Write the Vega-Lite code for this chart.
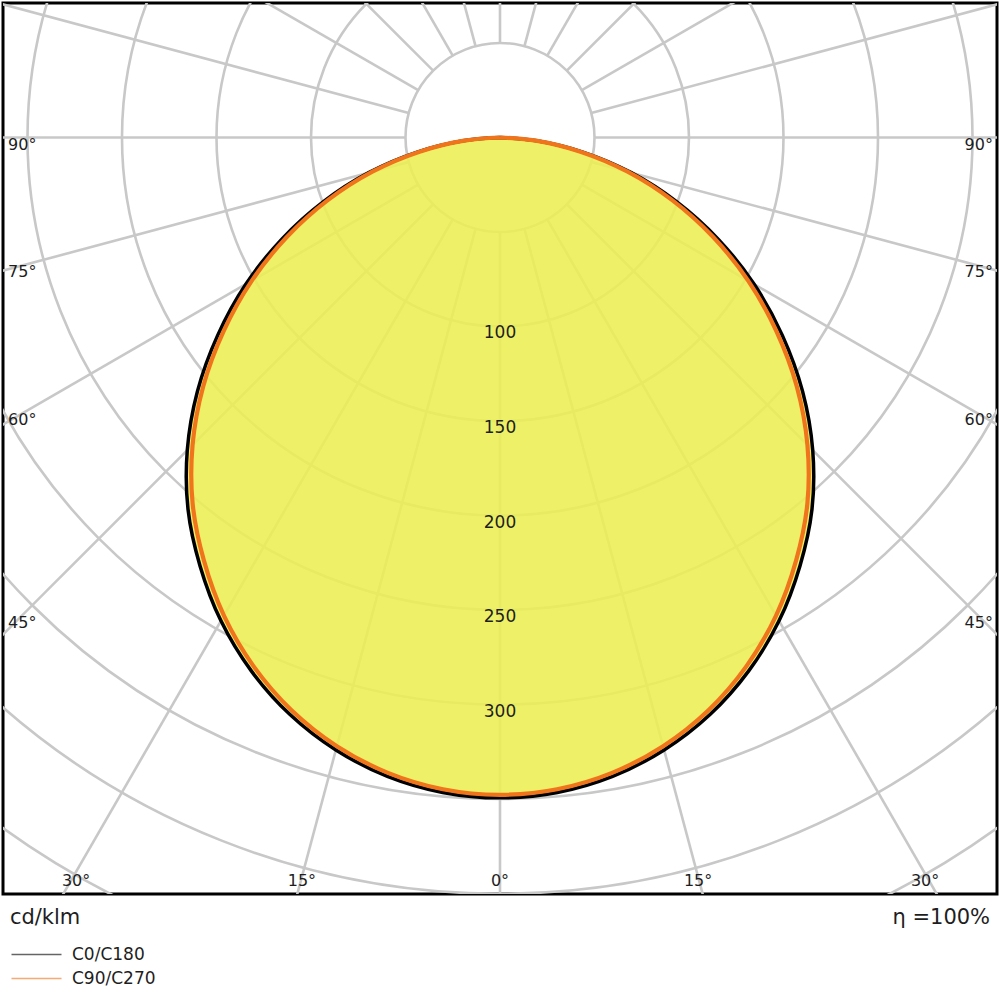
{
  "$schema": "https://vega.github.io/schema/vega-lite/v6.json",
  "width": 994,
  "height": 891,
  "autosize": {"type": "none"},
  "padding": {"left": 3, "top": 3, "right": 3, "bottom": 106},
  "background": "white",
  "config": {
    "view": {"stroke": "#000000", "strokeWidth": 3},
    "font": "DejaVu Sans",
    "text": {"font": "DejaVu Sans", "color": "#1e1e1e"}
  },
  "datasets": {
    "rings": [{"cd": 50}, {"cd": 100}, {"cd": 150}, {"cd": 200}, {"cd": 250}, {"cd": 300}, {"cd": 350}, {"cd": 400}, {"cd": 450}],
    "rays": [
      {"angle": 0, "x": 0, "y": -50, "x2": 0, "y2": -500},
      {"angle": 15, "x": 12.94, "y": -48.3, "x2": 129.41, "y2": -482.96},
      {"angle": 30, "x": 25, "y": -43.3, "x2": 250, "y2": -433.01},
      {"angle": 45, "x": 35.36, "y": -35.36, "x2": 353.55, "y2": -353.55},
      {"angle": 60, "x": 43.3, "y": -25, "x2": 433.01, "y2": -250},
      {"angle": 75, "x": 48.3, "y": -12.94, "x2": 482.96, "y2": -129.41},
      {"angle": 90, "x": 50, "y": 0, "x2": 500, "y2": 0},
      {"angle": 105, "x": 48.3, "y": 12.94, "x2": 482.96, "y2": 129.41},
      {"angle": 120, "x": 43.3, "y": 25, "x2": 433.01, "y2": 250},
      {"angle": 135, "x": 35.36, "y": 35.36, "x2": 353.55, "y2": 353.55},
      {"angle": 150, "x": 25, "y": 43.3, "x2": 250, "y2": 433.01},
      {"angle": 165, "x": 12.94, "y": 48.3, "x2": 129.41, "y2": 482.96},
      {"angle": 180, "x": 0, "y": 50, "x2": 0, "y2": 500},
      {"angle": 195, "x": -12.94, "y": 48.3, "x2": -129.41, "y2": 482.96},
      {"angle": 210, "x": -25, "y": 43.3, "x2": -250, "y2": 433.01},
      {"angle": 225, "x": -35.36, "y": 35.36, "x2": -353.55, "y2": 353.55},
      {"angle": 240, "x": -43.3, "y": 25, "x2": -433.01, "y2": 250},
      {"angle": 255, "x": -48.3, "y": 12.94, "x2": -482.96, "y2": 129.41},
      {"angle": 270, "x": -50, "y": 0, "x2": -500, "y2": 0},
      {"angle": 285, "x": -48.3, "y": -12.94, "x2": -482.96, "y2": -129.41},
      {"angle": 300, "x": -43.3, "y": -25, "x2": -433.01, "y2": -250},
      {"angle": 315, "x": -35.36, "y": -35.36, "x2": -353.55, "y2": -353.55},
      {"angle": 330, "x": -25, "y": -43.3, "x2": -250, "y2": -433.01},
      {"angle": 345, "x": -12.94, "y": -48.3, "x2": -129.41, "y2": -482.96}
    ],
    "curves": [
      {"series": "C0/C180", "gamma": -90, "x": 0, "y": 0},
      {"series": "C0/C180", "gamma": -85, "x": -19.53, "y": -1.71},
      {"series": "C0/C180", "gamma": -80, "x": -43.82, "y": -7.73},
      {"series": "C0/C180", "gamma": -75, "x": -69.45, "y": -18.61},
      {"series": "C0/C180", "gamma": -70, "x": -93.59, "y": -34.07},
      {"series": "C0/C180", "gamma": -65, "x": -115.55, "y": -53.88},
      {"series": "C0/C180", "gamma": -60, "x": -134.49, "y": -77.65},
      {"series": "C0/C180", "gamma": -55, "x": -149.33, "y": -104.56},
      {"series": "C0/C180", "gamma": -50, "x": -160.1, "y": -134.34},
      {"series": "C0/C180", "gamma": -45, "x": -165.46, "y": -165.46},
      {"series": "C0/C180", "gamma": -40, "x": -165.07, "y": -196.72},
      {"series": "C0/C180", "gamma": -35, "x": -158.71, "y": -226.66},
      {"series": "C0/C180", "gamma": -30, "x": -147.65, "y": -255.74},
      {"series": "C0/C180", "gamma": -25, "x": -131.6, "y": -282.22},
      {"series": "C0/C180", "gamma": -20, "x": -111.12, "y": -305.31},
      {"series": "C0/C180", "gamma": -15, "x": -86.83, "y": -324.07},
      {"series": "C0/C180", "gamma": -10, "x": -59.6, "y": -337.99},
      {"series": "C0/C180", "gamma": -5, "x": -30.32, "y": -346.51},
      {"series": "C0/C180", "gamma": 0, "x": 0, "y": -349.4},
      {"series": "C0/C180", "gamma": 5, "x": 30.32, "y": -346.51},
      {"series": "C0/C180", "gamma": 10, "x": 59.6, "y": -337.99},
      {"series": "C0/C180", "gamma": 15, "x": 86.83, "y": -324.07},
      {"series": "C0/C180", "gamma": 20, "x": 111.12, "y": -305.31},
      {"series": "C0/C180", "gamma": 25, "x": 131.6, "y": -282.22},
      {"series": "C0/C180", "gamma": 30, "x": 147.65, "y": -255.74},
      {"series": "C0/C180", "gamma": 35, "x": 158.71, "y": -226.66},
      {"series": "C0/C180", "gamma": 40, "x": 165.07, "y": -196.72},
      {"series": "C0/C180", "gamma": 45, "x": 165.46, "y": -165.46},
      {"series": "C0/C180", "gamma": 50, "x": 160.1, "y": -134.34},
      {"series": "C0/C180", "gamma": 55, "x": 149.33, "y": -104.56},
      {"series": "C0/C180", "gamma": 60, "x": 134.49, "y": -77.65},
      {"series": "C0/C180", "gamma": 65, "x": 115.55, "y": -53.88},
      {"series": "C0/C180", "gamma": 70, "x": 93.59, "y": -34.07},
      {"series": "C0/C180", "gamma": 75, "x": 69.45, "y": -18.61},
      {"series": "C0/C180", "gamma": 80, "x": 43.82, "y": -7.73},
      {"series": "C0/C180", "gamma": 85, "x": 19.53, "y": -1.71},
      {"series": "C0/C180", "gamma": 90, "x": 0, "y": 0},
      {"series": "C90/C270", "gamma": -90, "x": 0, "y": 0},
      {"series": "C90/C270", "gamma": -85, "x": -18.96, "y": -1.66},
      {"series": "C90/C270", "gamma": -80, "x": -42.57, "y": -7.51},
      {"series": "C90/C270", "gamma": -75, "x": -67.53, "y": -18.09},
      {"series": "C90/C270", "gamma": -70, "x": -91.11, "y": -33.16},
      {"series": "C90/C270", "gamma": -65, "x": -112.67, "y": -52.54},
      {"series": "C90/C270", "gamma": -60, "x": -131.37, "y": -75.85},
      {"series": "C90/C270", "gamma": -55, "x": -146.16, "y": -102.34},
      {"series": "C90/C270", "gamma": -50, "x": -157.04, "y": -131.77},
      {"series": "C90/C270", "gamma": -45, "x": -162.65, "y": -162.65},
      {"series": "C90/C270", "gamma": -40, "x": -162.62, "y": -193.8},
      {"series": "C90/C270", "gamma": -35, "x": -156.68, "y": -223.77},
      {"series": "C90/C270", "gamma": -30, "x": -146.06, "y": -252.97},
      {"series": "C90/C270", "gamma": -25, "x": -130.42, "y": -279.68},
      {"series": "C90/C270", "gamma": -20, "x": -110.29, "y": -303.01},
      {"series": "C90/C270", "gamma": -15, "x": -86.29, "y": -322.04},
      {"series": "C90/C270", "gamma": -10, "x": -59.28, "y": -336.17},
      {"series": "C90/C270", "gamma": -5, "x": -30.17, "y": -344.85},
      {"series": "C90/C270", "gamma": 0, "x": 0, "y": -347.79},
      {"series": "C90/C270", "gamma": 5, "x": 30.17, "y": -344.85},
      {"series": "C90/C270", "gamma": 10, "x": 59.28, "y": -336.17},
      {"series": "C90/C270", "gamma": 15, "x": 86.29, "y": -322.04},
      {"series": "C90/C270", "gamma": 20, "x": 110.29, "y": -303.01},
      {"series": "C90/C270", "gamma": 25, "x": 130.42, "y": -279.68},
      {"series": "C90/C270", "gamma": 30, "x": 146.06, "y": -252.97},
      {"series": "C90/C270", "gamma": 35, "x": 156.68, "y": -223.77},
      {"series": "C90/C270", "gamma": 40, "x": 162.62, "y": -193.8},
      {"series": "C90/C270", "gamma": 45, "x": 162.65, "y": -162.65},
      {"series": "C90/C270", "gamma": 50, "x": 157.04, "y": -131.77},
      {"series": "C90/C270", "gamma": 55, "x": 146.16, "y": -102.34},
      {"series": "C90/C270", "gamma": 60, "x": 131.37, "y": -75.85},
      {"series": "C90/C270", "gamma": 65, "x": 112.67, "y": -52.54},
      {"series": "C90/C270", "gamma": 70, "x": 91.11, "y": -33.16},
      {"series": "C90/C270", "gamma": 75, "x": 67.53, "y": -18.09},
      {"series": "C90/C270", "gamma": 80, "x": 42.57, "y": -7.51},
      {"series": "C90/C270", "gamma": 85, "x": 18.96, "y": -1.66},
      {"series": "C90/C270", "gamma": 90, "x": 0, "y": 0}
    ],
    "ringLabels": [
      {"label": "100", "y": -100},
      {"label": "150", "y": -150},
      {"label": "200", "y": -200},
      {"label": "250", "y": -250},
      {"label": "300", "y": -300}
    ],
    "leftLabels": [
      {"label": "90°", "x": -260.3, "y": -3.9},
      {"label": "75°", "x": -260.3, "y": -71.4},
      {"label": "60°", "x": -260.3, "y": -149.4},
      {"label": "45°", "x": -260.3, "y": -256.8}
    ],
    "rightLabels": [
      {"label": "90°", "x": 260.8, "y": -3.9},
      {"label": "75°", "x": 260.8, "y": -71.4},
      {"label": "60°", "x": 260.8, "y": -149.4},
      {"label": "45°", "x": 260.8, "y": -256.8}
    ],
    "bottomLabels": [
      {"label": "30°", "x": -224.3, "y": -393.4},
      {"label": "15°", "x": -104.8, "y": -393.4},
      {"label": "0°", "x": 0, "y": -393.4},
      {"label": "15°", "x": 104.8, "y": -393.4},
      {"label": "30°", "x": 224.9, "y": -393.4}
    ]
  },
  "layer": [
    {
      "data": {"name": "rings"},
      "mark": {"type": "point", "shape": "circle", "filled": false, "stroke": "#c8c8c8", "strokeWidth": 2.6, "opacity": 1, "clip": true},
      "encoding": {
        "x": {"datum": 0, "type": "quantitative", "scale": {"domain": [-262.96, 262.96], "nice": false, "zero": false}, "axis": null},
        "y": {"datum": 0, "type": "quantitative", "scale": {"domain": [-400.26, 71.16], "nice": false, "zero": false}, "axis": null},
        "size": {"field": "cd", "type": "quantitative", "scale": {"type": "pow", "exponent": 2, "domain": [0, 500], "range": [0, 3572100]}, "legend": null}
      }
    },
    {
      "data": {"name": "rays"},
      "mark": {"type": "rule", "stroke": "#c8c8c8", "strokeWidth": 2.6, "clip": true},
      "encoding": {
        "x": {"field": "x", "type": "quantitative"},
        "y": {"field": "y", "type": "quantitative"},
        "x2": {"field": "x2"},
        "y2": {"field": "y2"}
      }
    },
    {
      "data": {"name": "curves"},
      "transform": [{"filter": "datum.series == 'C0/C180'"}],
      "mark": {"type": "line", "interpolate": "catmull-rom", "fill": "#ecef52", "fillOpacity": 0.88, "strokeWidth": 0, "clip": true},
      "encoding": {
        "x": {"field": "x", "type": "quantitative"},
        "y": {"field": "y", "type": "quantitative"},
        "order": {"field": "gamma", "type": "quantitative"}
      }
    },
    {
      "data": {"name": "curves"},
      "transform": [{"filter": "datum.series == 'C0/C180'"}],
      "mark": {"type": "line", "interpolate": "catmull-rom", "strokeWidth": 3.5, "clip": true},
      "encoding": {
        "x": {"field": "x", "type": "quantitative"},
        "y": {"field": "y", "type": "quantitative"},
        "order": {"field": "gamma", "type": "quantitative"},
        "color": {
          "field": "series", "type": "nominal",
          "scale": {"domain": ["C0/C180", "C90/C270"], "range": ["#000000", "#f0741c"]},
          "legend": {
            "title": null, "orient": "none", "legendX": 25, "legendY": 943,
            "symbolType": "M-5,0H5", "symbolSize": 100, "symbolStrokeWidth": 1.5, "symbolOpacity": 0.6,
            "labelFont": "DejaVu Sans", "labelFontSize": 17, "labelColor": "#1e1e1e", "labelOffset": 27, "rowPadding": 6
          }
        }
      }
    },
    {
      "data": {"name": "curves"},
      "transform": [{"filter": "datum.series == 'C90/C270'"}],
      "mark": {"type": "line", "interpolate": "catmull-rom", "strokeWidth": 4.2, "clip": true},
      "encoding": {
        "x": {"field": "x", "type": "quantitative"},
        "y": {"field": "y", "type": "quantitative"},
        "order": {"field": "gamma", "type": "quantitative"},
        "color": {"field": "series", "type": "nominal"}
      }
    },
    {
      "data": {"name": "ringLabels"},
      "mark": {"type": "text", "fontSize": 17, "align": "center", "baseline": "middle", "dy": 7},
      "encoding": {
        "x": {"datum": 0, "type": "quantitative"},
        "y": {"field": "y", "type": "quantitative"},
        "text": {"field": "label"}
      }
    },
    {
      "data": {"name": "leftLabels"},
      "mark": {"type": "text", "fontSize": 16, "align": "left", "baseline": "middle"},
      "encoding": {
        "x": {"field": "x", "type": "quantitative"},
        "y": {"field": "y", "type": "quantitative"},
        "text": {"field": "label"}
      }
    },
    {
      "data": {"name": "rightLabels"},
      "mark": {"type": "text", "fontSize": 16, "align": "right", "baseline": "middle"},
      "encoding": {
        "x": {"field": "x", "type": "quantitative"},
        "y": {"field": "y", "type": "quantitative"},
        "text": {"field": "label"}
      }
    },
    {
      "data": {"name": "bottomLabels"},
      "mark": {"type": "text", "fontSize": 16, "align": "center", "baseline": "middle"},
      "encoding": {
        "x": {"field": "x", "type": "quantitative"},
        "y": {"field": "y", "type": "quantitative"},
        "text": {"field": "label"}
      }
    },
    {
      "data": {"values": [{"label": "cd/klm", "x": -259.3, "y": -413.2}]},
      "mark": {"type": "text", "fontSize": 21, "align": "left", "baseline": "middle"},
      "encoding": {
        "x": {"field": "x", "type": "quantitative"},
        "y": {"field": "y", "type": "quantitative"},
        "text": {"field": "label"}
      }
    },
    {
      "data": {"values": [{"label": "η =100%", "x": 259.3, "y": -413.2}]},
      "mark": {"type": "text", "fontSize": 21, "align": "right", "baseline": "middle"},
      "encoding": {
        "x": {"field": "x", "type": "quantitative"},
        "y": {"field": "y", "type": "quantitative"},
        "text": {"field": "label"}
      }
    }
  ]
}
